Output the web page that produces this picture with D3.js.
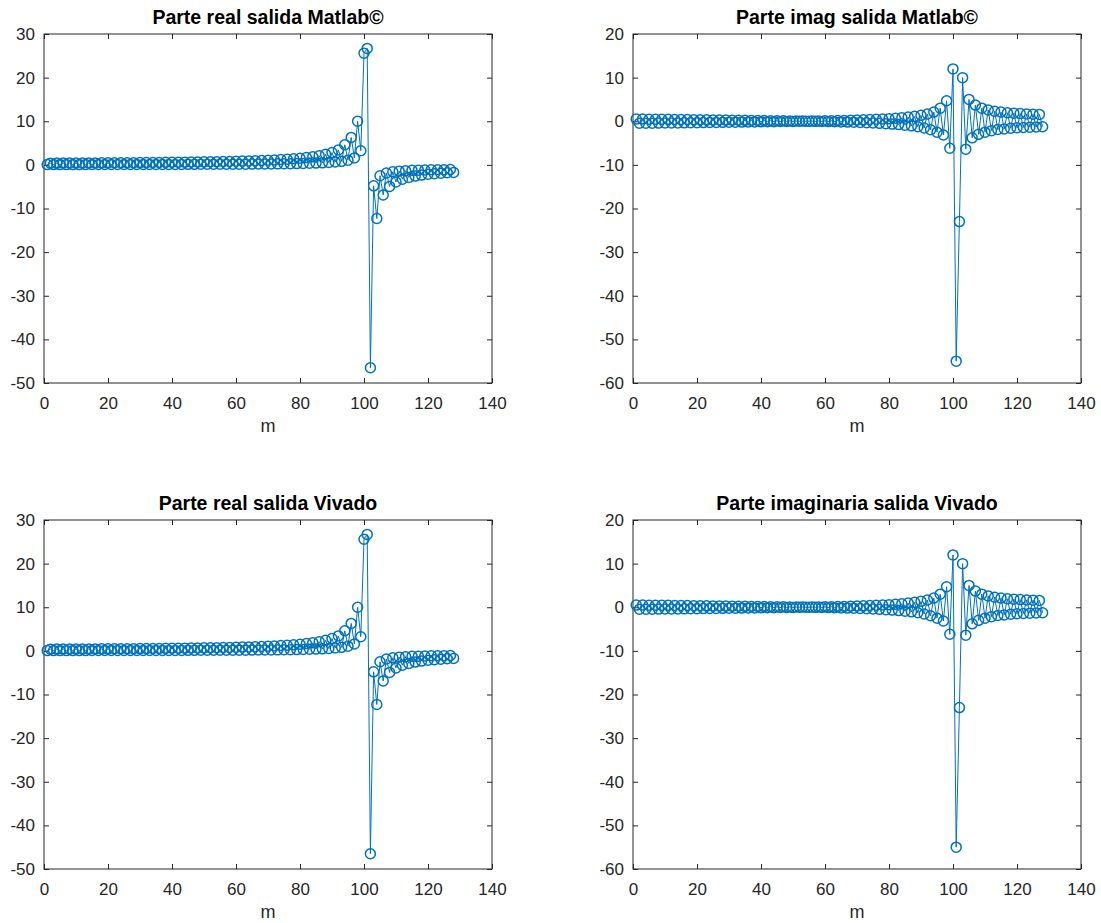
<!DOCTYPE html>
<html><head><meta charset="utf-8">
<script src="https://cdn.jsdelivr.net/npm/d3@7"></script>
<style>body{margin:0;background:#fff}</style>
</head><body><svg id="chart" width="1101" height="923"></svg>
<script>
// ---- data ----
const mValues = d3.range(1, 129);
const realValues = [
0.07,0.40,0.07,0.41,0.07,0.42,0.07,0.42,0.07,0.43,
0.07,0.44,0.07,0.44,0.08,0.45,0.08,0.46,0.08,0.47,
0.08,0.48,0.08,0.49,0.09,0.50,0.09,0.51,0.09,0.52,
0.09,0.53,0.10,0.55,0.10,0.56,0.10,0.58,0.10,0.59,
0.11,0.61,0.11,0.63,0.12,0.65,0.12,0.67,0.13,0.69,
0.13,0.71,0.14,0.74,0.14,0.77,0.15,0.80,0.15,0.83,
0.16,0.87,0.17,0.91,0.18,0.96,0.19,1.01,0.20,1.07,
0.22,1.13,0.23,1.21,0.25,1.30,0.27,1.40,0.30,1.53,
0.33,1.68,0.36,1.86,0.41,2.10,0.46,2.41,0.54,2.83,
0.65,3.43,0.81,4.6,1.08,6.3,1.6,10.0,3.25,25.6,
26.7,-46.5,-4.8,-12.3,-2.5,-6.9,-1.87,-4.94,-1.59,-3.92,
-1.44,-3.29,-1.33,-2.87,-1.26,-2.57,-1.21,-2.34,-1.17,-2.16,
-1.13,-2.02,-1.11,-1.90,-1.09,-1.80,-1.07,-1.72
];
const imagValues = [
0.50,-0.45,0.49,-0.44,0.47,-0.43,0.46,-0.42,0.45,-0.41,
0.44,-0.40,0.42,-0.38,0.41,-0.37,0.39,-0.35,0.37,-0.33,
0.35,-0.31,0.33,-0.29,0.31,-0.27,0.29,-0.25,0.27,-0.23,
0.25,-0.21,0.23,-0.19,0.21,-0.17,0.19,-0.15,0.17,-0.13,
0.15,-0.11,0.13,-0.09,0.11,-0.07,0.09,-0.05,0.07,-0.03,
0.05,-0.01,0.03,0.01,0.01,0.03,-0.02,0.06,-0.05,0.09,
-0.08,0.12,-0.11,0.15,-0.15,0.19,-0.19,0.23,-0.24,0.28,
-0.29,0.33,-0.35,0.39,-0.41,0.45,-0.48,0.52,-0.56,0.60,
-0.65,0.70,-0.76,0.81,-0.89,0.95,-1.05,1.12,-1.26,1.35,
-1.55,1.65,-1.95,2.1,-2.5,3.0,-3.15,4.7,-6.2,12.0,
-55.0,-23.0,10.0,-6.4,5.0,-3.8,3.7,-3.0,3.0,-2.5,
2.6,-2.15,2.3,-1.9,2.1,-1.75,1.95,-1.6,1.85,-1.5,
1.75,-1.42,1.68,-1.36,1.62,-1.3,1.57,-1.25
];
const xTicks = [0, 20, 40, 60, 80, 100, 120, 140];
const realTicks = [-50, -40, -30, -20, -10, 0, 10, 20, 30];
const imagTicks = [-60, -50, -40, -30, -20, -10, 0, 10, 20];
const titles = ["Parte real salida Matlab©", "Parte imag salida Matlab©",
                "Parte real salida Vivado", "Parte imaginaria salida Vivado"];
const xLabel = "m";

// ---- layout ----
const svg = d3.select("#chart");
const W = 448, H = 349;
const panels = [
  {title: titles[0], vals: realValues, ticks: realTicks, left: 44, top: 34},
  {title: titles[1], vals: imagValues, ticks: imagTicks, left: 633, top: 34},
  {title: titles[2], vals: realValues, ticks: realTicks, left: 44, top: 520},
  {title: titles[3], vals: imagValues, ticks: imagTicks, left: 633, top: 520}
];
const axisColor = "#262626";
const lineColor = "#0072BD";
const font = "'Liberation Sans', Arial, Helvetica, sans-serif";
const fmt = d => String(d);

panels.forEach(p => {
  const g = svg.append("g").attr("transform", `translate(${p.left},${p.top})`);
  const x = d3.scaleLinear().domain([xTicks[0], xTicks[xTicks.length-1]]).range([0, W]);
  const y = d3.scaleLinear().domain([p.ticks[0], p.ticks[p.ticks.length-1]]).range([H, 0]);
  const pts = mValues.map((m, i) => [m, p.vals[i]]);

  const styleAxis = sel => {
    sel.select(".domain").remove();
    sel.selectAll("line").attr("stroke", axisColor).attr("stroke-width", 1);
    sel.selectAll("text").attr("fill", axisColor).style("font-family", font).style("font-size", "17px");
  };
  g.append("g").attr("transform", `translate(0,${H})`)
    .call(d3.axisBottom(x).tickValues(xTicks).tickFormat(fmt).tickSizeInner(-5).tickSizeOuter(0).tickPadding(14))
    .call(styleAxis);
  g.append("g")
    .call(d3.axisLeft(y).tickValues(p.ticks).tickFormat(fmt).tickSizeInner(-5).tickSizeOuter(0).tickPadding(9))
    .call(styleAxis);
  g.append("g")
    .call(d3.axisTop(x).tickValues(xTicks).tickSizeInner(-5).tickSizeOuter(0).tickFormat(""))
    .call(styleAxis);
  g.append("g").attr("transform", `translate(${W},0)`)
    .call(d3.axisRight(y).tickValues(p.ticks).tickSizeInner(-5).tickSizeOuter(0).tickFormat(""))
    .call(styleAxis);
  g.append("rect").attr("x", 0).attr("y", 0).attr("width", W).attr("height", H)
    .attr("fill", "none").attr("stroke", axisColor).attr("stroke-width", 1);

  g.append("path").datum(pts)
    .attr("fill", "none").attr("stroke", lineColor).attr("stroke-width", 1)
    .attr("d", d3.line().x(d => x(d[0])).y(d => y(d[1])));
  g.selectAll("circle.pt").data(pts).enter().append("circle")
    .attr("class", "pt")
    .attr("cx", d => x(d[0])).attr("cy", d => y(d[1])).attr("r", 5)
    .attr("fill", "none").attr("stroke", lineColor).attr("stroke-width", 1.5);

  g.append("text").attr("x", W/2).attr("y", -10).attr("text-anchor", "middle")
    .style("font-family", font).style("font-size", "19.5px").style("font-weight", "bold")
    .attr("fill", "#000").text(p.title);
  g.append("text").attr("x", W/2).attr("y", H + 49).attr("text-anchor", "middle")
    .style("font-family", font).style("font-size", "18px")
    .attr("fill", axisColor).text(xLabel);
});
</script>
</body></html>
